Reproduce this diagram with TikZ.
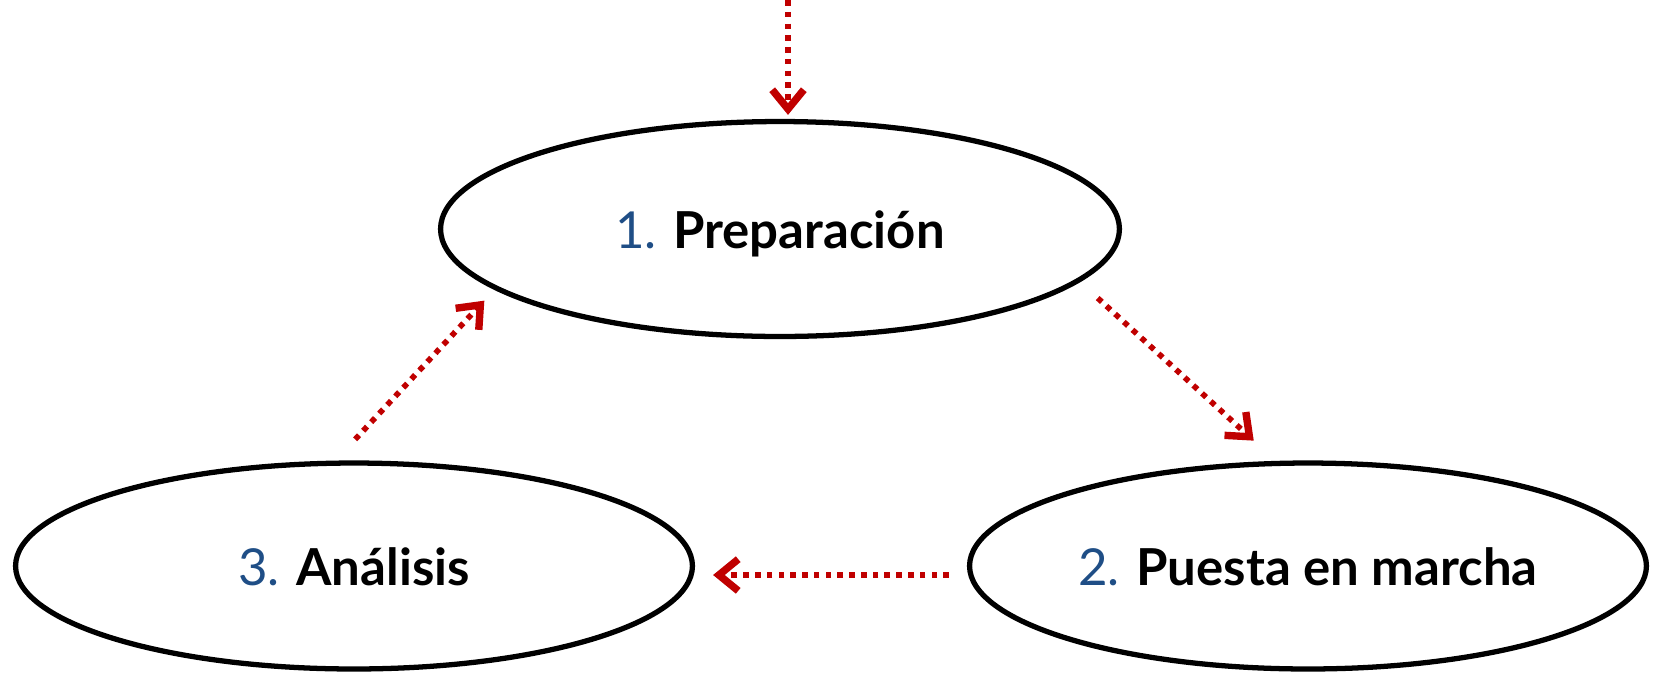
\documentclass[tikz,border=0pt]{standalone}
\usepackage{fontspec}
\setmainfont{Lato}
\usepackage{xcolor}
\usetikzlibrary{shapes.geometric, arrows.meta, calc}

\definecolor{stepblue}{HTML}{1F4E86}
\definecolor{flowred}{HTML}{C00000}
\newcommand{\stepnum}[1]{\textcolor{stepblue}{\mdseries #1}}
\newcommand{\phasetext}[1]{\raisebox{-11pt}[0pt][0pt]{#1}}

\begin{document}
\begin{tikzpicture}[
    x=0.02cm, y=-0.02cm,
    phase/.style={draw, ellipse, line width=3pt, minimum width=13.54cm, minimum height=4.12cm, inner sep=0pt, align=center, fill=white, font=\fontsize{29}{35}\selectfont\bfseries},
    flow/.style={draw=flowred, line width=3.2pt, dash pattern=on 3.2pt off 3.5pt, -{Straight Barb[length=11pt, width=18pt, line width=4.2pt]}}
]
    \useasboundingbox (0,0) rectangle (1657,674);

    % ===============================
    % 1. PHASES
    % ===============================
    \node[phase, minimum width=13.58cm, minimum height=4.3cm] (prep) at (780, 229) {\phasetext{\stepnum{1.} Preparación}};
    \node[phase] (puesta) at (1308, 566) {\phasetext{\stepnum{2.} Puesta en marcha}};
    \node[phase] (analisis) at (354, 566) {\phasetext{\stepnum{3.} Análisis}};

    % ===============================
    % 2. CYCLE ARROWS
    % ===============================
    \coordinate (entry) at (788, 0);
    \draw[flow, shorten >=0.08cm] (entry) -- (entry |- prep.north);

    % Preparacion -> Puesta en marcha
    \draw[flow, shorten <=0.48cm, shorten >=0.6cm] (prep.-10.6) -- (puesta.107);

    % Puesta en marcha -> Analisis
    \draw[flow, shorten <=0.36cm, shorten >=0.36cm] ([yshift=-0.18cm]puesta.west) -- ([yshift=-0.18cm]analisis.east);

    % Analisis -> Preparacion
    \draw[flow, shorten <=0.58cm, shorten >=0.3cm] (analisis.100.5) -- (prep.-168.1);

\end{tikzpicture}
\end{document}
